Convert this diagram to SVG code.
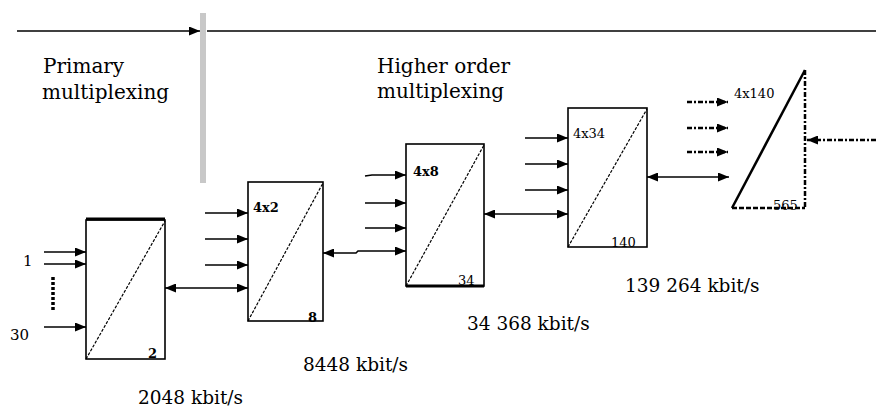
<svg xmlns="http://www.w3.org/2000/svg" width="876" height="410" viewBox="0 0 876 410">
<style>
.box{fill:#fff;stroke:#000;stroke-width:1.6}
.diag{stroke:#000;stroke-width:1.2;stroke-dasharray:3 1.5;fill:none}
.ln{stroke:#000;stroke-width:1.6;fill:none}
.dd{stroke:#000;stroke-width:2.5;fill:none;stroke-dasharray:5 2 2 2}
.hd{font-family:"DejaVu Serif",serif;font-size:20px;fill:#000}
.rate{font-family:"DejaVu Serif",serif;font-size:18.5px;fill:#000}
.sm{font-family:"DejaVu Serif",serif;font-size:13px;fill:#000}
.in{font-family:"DejaVu Serif",serif;font-size:15px;fill:#000}
</style>
<defs>
<marker id="ah" markerWidth="11" markerHeight="9" refX="11" refY="4.5" orient="auto-start-reverse" markerUnits="userSpaceOnUse"><path d="M0,0 L11,4.5 L0,9 z" fill="#000"/></marker>
</defs>
<rect width="876" height="410" fill="#fff"/>
<g id="timeline">
<line x1="17" y1="31" x2="200" y2="31" class="ln" marker-end="url(#ah)"/>
<line x1="207" y1="31" x2="876" y2="31" class="ln"/>
<rect x="200" y="13" width="6" height="170" fill="#c8c8c8"/>
</g>
<g id="labels">
<text x="43" y="73" class="hd">Primary</text>
<text x="42" y="99" class="hd">multiplexing</text>
<text x="377" y="73" class="hd">Higher order</text>
<text x="377" y="98" class="hd">multiplexing</text>
<text x="138" y="404" class="rate">2048 kbit/s</text>
<text x="303" y="371" class="rate">8448 kbit/s</text>
<text x="467" y="330" class="rate">34 368 kbit/s</text>
<text x="625" y="292" class="rate">139 264 kbit/s</text>
<text x="23" y="266" class="in">1</text>
<text x="10" y="340" class="in">30</text>
</g>
<g id="mux1">
<rect x="86" y="220" width="79" height="139" class="box"/>
<line x1="86" y1="219" x2="165" y2="219" stroke="#000" stroke-width="3"/>
<line x1="86" y1="359" x2="165" y2="221" class="diag"/>
<text x="148" y="358" class="sm" font-weight="bold">2</text>
</g>
<g id="mux2">
<rect x="248" y="182" width="75" height="139" class="box"/>
<line x1="248" y1="321" x2="323" y2="183" class="diag"/>
<text x="253" y="212" class="sm" font-weight="bold">4x2</text>
<text x="308" y="322" class="sm" font-weight="bold">8</text>
</g>
<g id="mux3">
<rect x="406" y="144" width="78" height="142" class="box"/>
<line x1="406" y1="286" x2="484" y2="286" stroke="#000" stroke-width="3"/>
<line x1="406" y1="286" x2="484" y2="145" class="diag"/>
<text x="413" y="176" class="sm" font-weight="bold">4x8</text>
<text x="458" y="285" class="sm">34</text>
</g>
<g id="mux4">
<rect x="568" y="108" width="79" height="139" class="box"/>
<line x1="568" y1="247" x2="647" y2="109" class="diag"/>
<text x="573" y="138" class="sm">4x34</text>
<text x="611" y="247" class="sm">140</text>
</g>
<g id="mux5">
<line x1="732" y1="208" x2="805" y2="70" stroke="#000" stroke-width="2.5"/>
<line x1="805" y1="70" x2="805" y2="208" class="dd"/>
<line x1="732" y1="208" x2="805" y2="208" stroke="#000" stroke-width="2.5" stroke-dasharray="5 2"/>
<text x="734" y="98" class="sm">4x140</text>
<text x="773" y="210" class="sm">565</text>
</g>
<g id="connectors">
<line x1="44" y1="252" x2="86" y2="252" class="ln" marker-end="url(#ah)"/>
<line x1="44" y1="264" x2="86" y2="264" class="ln" marker-end="url(#ah)"/>
<line x1="44" y1="327" x2="86" y2="327" class="ln" marker-end="url(#ah)"/>
<line x1="53" y1="277" x2="53" y2="312" stroke="#000" stroke-width="3.5" stroke-dasharray="3 2"/>
<line x1="165" y1="288" x2="248" y2="288" class="ln" marker-start="url(#ah)" marker-end="url(#ah)"/>
<line x1="205" y1="213" x2="248" y2="213" class="ln" marker-end="url(#ah)"/>
<line x1="205" y1="239" x2="248" y2="239" class="ln" marker-end="url(#ah)"/>
<line x1="205" y1="265" x2="248" y2="265" class="ln" marker-end="url(#ah)"/>
<polyline points="323,253 356,253 358,251 406,251" class="ln" marker-start="url(#ah)" marker-end="url(#ah)"/>
<polyline points="365,176 372,175 406,175" class="ln" marker-end="url(#ah)"/>
<line x1="365" y1="203" x2="406" y2="203" class="ln" marker-end="url(#ah)"/>
<line x1="365" y1="228" x2="406" y2="228" class="ln" marker-end="url(#ah)"/>
<line x1="484" y1="214" x2="568" y2="214" class="ln" marker-start="url(#ah)" marker-end="url(#ah)"/>
<line x1="525" y1="138" x2="568" y2="138" class="ln" marker-end="url(#ah)"/>
<line x1="525" y1="164" x2="568" y2="164" class="ln" marker-end="url(#ah)"/>
<line x1="525" y1="190" x2="568" y2="190" class="ln" marker-end="url(#ah)"/>
<line x1="647" y1="177" x2="729" y2="177" class="ln" marker-start="url(#ah)" marker-end="url(#ah)"/>
<line x1="687" y1="102" x2="728" y2="102" class="dd" marker-end="url(#ah)"/>
<line x1="687" y1="128" x2="728" y2="128" class="dd" marker-end="url(#ah)"/>
<line x1="687" y1="152" x2="728" y2="152" class="dd" marker-end="url(#ah)"/>
<line x1="876" y1="140" x2="807" y2="140" class="dd" marker-end="url(#ah)"/>
</g>
</svg>
